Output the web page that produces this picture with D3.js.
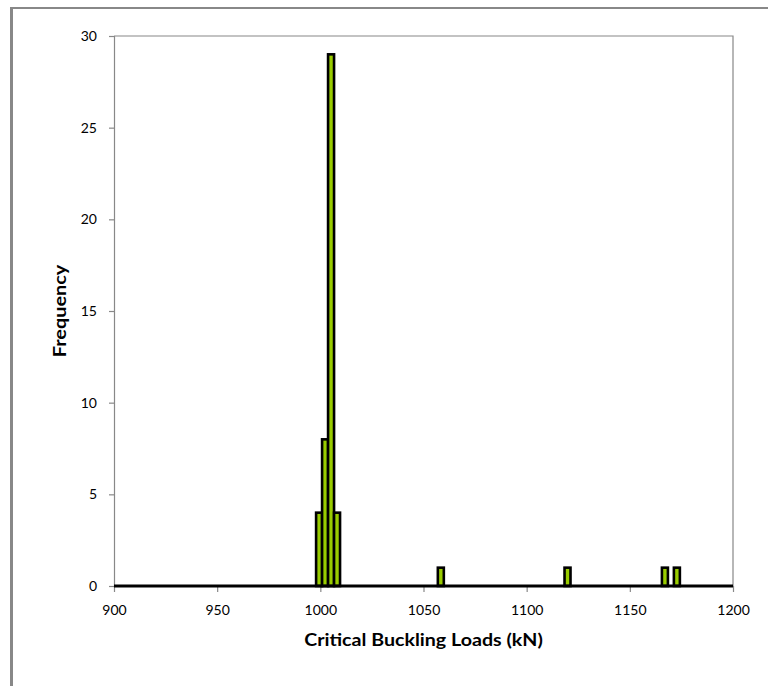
<!DOCTYPE html>
<html><head><meta charset="utf-8">
<script src="https://cdn.jsdelivr.net/npm/d3@7"></script>
<style>body{margin:0;background:#fff;} svg{display:block;}</style>
</head><body>
<svg id="c" width="768" height="686"></svg>
<script>
const binCenters = [999.4, 1002.3, 1005.2, 1008.1, 1058.4, 1119.8, 1167.0, 1172.8];
const counts = [4, 8, 29, 4, 1, 1, 1, 1];
const binWidth = 2.9;
const xTicks = [900, 950, 1000, 1050, 1100, 1150, 1200];
const yTicks = [0, 5, 10, 15, 20, 25, 30];

const svg = d3.select("#c");
const m = {l:114, t:36, r:733, b:586};
const x = d3.scaleLinear().domain([900,1200]).range([m.l, m.r]);
const y = d3.scaleLinear().domain([0,30]).range([m.b, m.t]);
const font = "Lato, 'Open Sans', sans-serif";

// outer frame
svg.append("line").attr("x1",11.5).attr("x2",11.5).attr("y1",7).attr("y2",686).attr("stroke","#888").attr("stroke-width",3);
svg.append("line").attr("x1",10).attr("x2",768).attr("y1",8).attr("y2",8).attr("stroke","#888").attr("stroke-width",2);

// plot area border (top/right)
svg.append("path").attr("d",`M${m.l},${m.t}H${m.r}V${m.b}`).attr("fill","none").attr("stroke","#888").attr("stroke-width",1.2);

// y axis
const ya = svg.append("g").attr("transform",`translate(${m.l},0)`)
  .call(d3.axisLeft(y).tickValues(yTicks).tickSize(5).tickPadding(12));
ya.select(".domain").attr("stroke","#888").attr("stroke-width",1.2);
ya.selectAll(".tick line").attr("stroke","#888").attr("stroke-width",1.2);
ya.selectAll("text").attr("font-family",font).attr("font-size",14).attr("fill","#000");

// x axis
const xa = svg.append("g").attr("transform",`translate(0,${m.b})`)
  .call(d3.axisBottom(x).tickValues(xTicks).tickSize(6).tickPadding(13).tickFormat(d3.format("d")));
xa.select(".domain").remove();
xa.selectAll(".tick line").attr("stroke","#888").attr("stroke-width",1.2);
xa.selectAll("text").attr("font-family",font).attr("font-size",14).attr("fill","#000");

// bars
svg.append("g").selectAll("rect").data(binCenters).join("rect")
  .attr("x", d => x(d - binWidth/2))
  .attr("width", d => x(d + binWidth/2) - x(d - binWidth/2))
  .attr("y", (d,i) => y(counts[i]))
  .attr("height", (d,i) => y(0) - y(counts[i]))
  .attr("fill","#99cc00").attr("stroke","#000").attr("stroke-width",2.6);

// baseline
svg.append("line").attr("x1",m.l).attr("x2",m.r).attr("y1",m.b).attr("y2",m.b).attr("stroke","#000").attr("stroke-width",3);

// titles
svg.append("text").attr("transform",`translate(${(m.l+m.r)/2},646) scale(1.155,1)`).attr("text-anchor","middle")
  .attr("font-family",font).attr("font-weight","bold").attr("font-size",17).text("Critical Buckling Loads (kN)");
svg.append("text").attr("transform",`translate(66,${(m.t+m.b)/2}) rotate(-90) scale(1.167,1)`).attr("text-anchor","middle")
  .attr("font-family",font).attr("font-weight","bold").attr("font-size",17).text("Frequency");
</script>
</body></html>
